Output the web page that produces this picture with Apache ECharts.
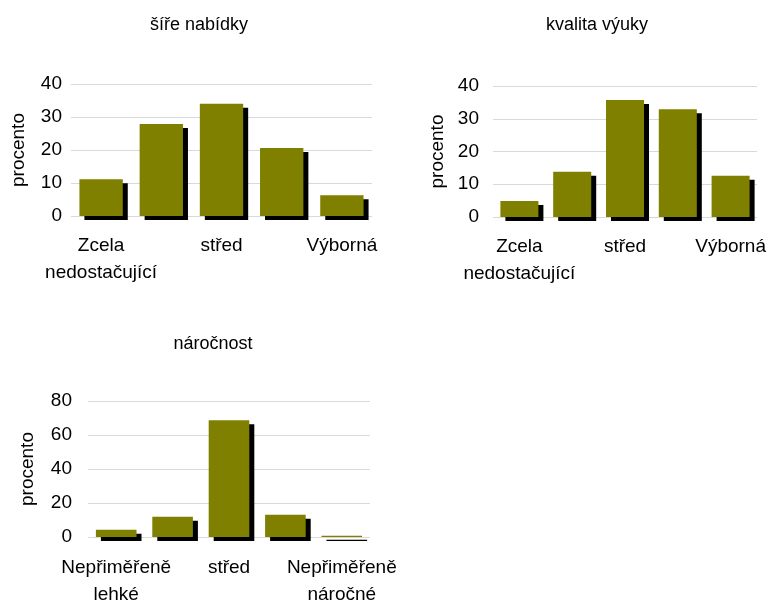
<!DOCTYPE html>
<html><head><meta charset="utf-8">
<script src="https://cdn.jsdelivr.net/npm/echarts@6/dist/echarts.min.js"></script>
<style>html,body{margin:0;padding:0;background:#fff}#c{width:776px;height:603px}</style>
</head><body><div id="c"></div>
<script>
const titles = ['šíře nabídky', 'kvalita výuky', 'náročnost'];
const catsRating = ['Zcela\nnedostačující', 'nedostačující', 'střed', 'dobrá', 'Výborná'];
const catsDifficulty = ['Nepřiměřeně\nlehké', 'lehké', 'střed', 'náročné', 'Nepřiměřeně\nnáročné'];
const valuesNabidka = [11.1, 27.9, 34.0, 20.6, 6.3];
const valuesVyuka = [4.9, 13.8, 35.7, 32.9, 12.6];
const valuesNarocnost = [4.3, 11.9, 68.7, 13.1, 0.8];
const yMax = [40, 40, 80];
const yInterval = [10, 10, 20];
const yName = 'procento';

const font = 'Liberation Sans, Arial, sans-serif';
const grids = [
  {left: 71, top: 84, width: 301, height: 132, outerBoundsMode: 'none', containLabel: false},
  {left: 493, top: 86, width: 264, height: 131, outerBoundsMode: 'none', containLabel: false},
  {left: 88, top: 401, width: 282, height: 136, outerBoundsMode: 'none', containLabel: false}
];
const cats = [catsRating, catsRating, catsDifficulty];
const vals = [valuesNabidka, valuesVyuka, valuesNarocnost];
const titlePos = [[194, 11], [592, 11], [208, 330]];
const tickMargin = [9, 14, 16];
const nameGaps = [43, 46, 51];
const catMargin = [16, 16, 17];

const chart = echarts.init(document.getElementById('c'), null, {renderer: 'canvas'});
const option = {
  animation: false,
  backgroundColor: '#fff',
  title: titles.map((t, i) => ({
    text: t, left: titlePos[i][0], top: titlePos[i][1], textAlign: 'center',
    textStyle: {fontFamily: font, fontSize: 18, fontWeight: 'normal', color: '#000'}
  })),
  grid: grids,
  xAxis: grids.map((g, i) => ({
    type: 'category', gridIndex: i, data: cats[i],
    axisLine: {show: false}, axisTick: {show: false},
    axisLabel: {interval: 1, fontFamily: font, fontSize: 19, color: '#000', margin: catMargin[i], lineHeight: 27}
  })),
  yAxis: grids.map((g, i) => ({
    type: 'value', gridIndex: i, min: 0, max: yMax[i], interval: yInterval[i],
    name: yName, nameLocation: 'middle', nameGap: nameGaps[i], nameRotate: 90,
    nameTextStyle: {fontFamily: font, fontSize: 19, color: '#000'},
    axisLine: {show: false}, axisTick: {show: false},
    axisLabel: {fontFamily: font, fontSize: 19, color: '#000', margin: tickMargin[i]},
    splitLine: {lineStyle: {color: '#d9d9d9', width: 1}}
  })),
  series: vals.map((v, i) => ({
    type: 'bar', xAxisIndex: i, yAxisIndex: i, data: v,
    barWidth: '72%',
    itemStyle: {color: '#808000', shadowColor: '#000', shadowBlur: 0, shadowOffsetX: 5, shadowOffsetY: 4}
  }))
};
chart.setOption(option);
</script>
</body></html>
